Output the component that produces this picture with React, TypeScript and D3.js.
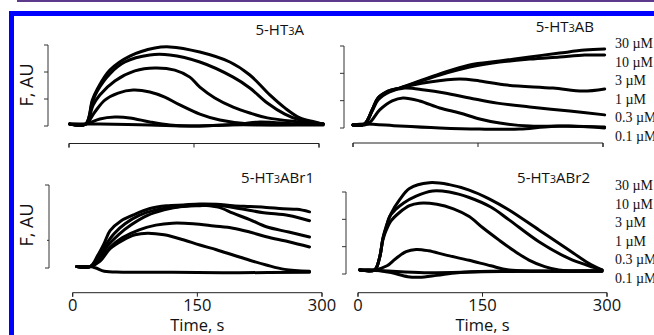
import React from "react";
import * as d3 from "d3";

type Pt = [number, number];

// concentration labels (legend on the right)
const concLabels = ["30 µM", "10 µM", "3 µM", "1 µM", "0.3 µM", "0.1 µM"];
const xTickValues = [0, 150, 300];
const panelTitles = ["A", "AB", "ABr1", "ABr2"];

// ---- 5-HT3A (time s, F AU)
const A_30: Pt[] = [[1,0.07],[20,0.07],[28,0.96],[34,1.37],[49,2.07],[73,2.59],[103,2.89],[121,2.93],[157,2.74],[193,2.37],[217,1.89],[241,1.15],[259,0.67],[277,0.3],[295,0.15],[305,0.07]];
const A_10: Pt[] = [[1,0.07],[20,0.07],[28,0.89],[34,1.3],[49,1.93],[67,2.37],[97,2.63],[121,2.63],[157,2.37],[197,1.81],[217,1.41],[238,0.85],[259,0.44],[277,0.22],[305,0.07]];
const A_3: Pt[] = [[1,0.07],[20,0.07],[29,0.78],[37,1.15],[55,1.67],[79,2.04],[103,2.15],[127,2.07],[145,1.81],[157,1.44],[175,1.04],[197,0.7],[217,0.48],[238,0.3],[277,0.15],[305,0.07]];
const A_1: Pt[] = [[1,0.07],[20,0.07],[31,0.52],[43,0.96],[59,1.22],[77,1.33],[97,1.26],[115,1.07],[133,0.78],[157,0.44],[181,0.22],[217,0.07],[305,0.07]];
const A_03: Pt[] = [[1,0.07],[20,0.07],[37,0.26],[55,0.33],[73,0.3],[97,0.15],[121,0.04],[157,0],[205,0.07],[229,0.15],[277,0.07],[305,0.07]];
const A_01: Pt[] = [[1,0.07],[37,0.07],[97,0.04],[145,0],[193,0.04],[241,0.04],[305,0.04]];

// ---- 5-HT3AB
const AB_30: Pt[] = [[0,0.11],[14,0.15],[23,0.66],[30,1.1],[42,1.35],[56,1.46],[80,1.72],[104,1.98],[140,2.31],[176,2.45],[212,2.6],[248,2.74],[278,2.85],[302,2.89]];
const AB_10: Pt[] = [[0,0.11],[14,0.15],[23,0.66],[30,1.1],[42,1.35],[56,1.46],[80,1.7],[104,1.94],[140,2.23],[176,2.41],[212,2.52],[248,2.6],[278,2.67],[302,2.67]];
const AB_3: Pt[] = [[0,0.11],[14,0.15],[23,0.66],[30,1.06],[42,1.32],[56,1.46],[92,1.68],[128,1.79],[152,1.72],[185,1.57],[240,1.46],[276,1.35],[302,1.43]];
const AB_1: Pt[] = [[0,0.11],[14,0.15],[23,0.62],[30,1.02],[44,1.32],[62,1.46],[86,1.39],[110,1.28],[140,1.1],[173,0.91],[212,0.77],[260,0.62],[302,0.48]];
const AB_03: Pt[] = [[0,0.11],[18,0.15],[32,0.66],[47,0.99],[60,1.1],[80,0.99],[104,0.73],[128,0.55],[152,0.33],[176,0.18],[212,0.07],[248,0.07],[302,0.04]];
const AB_01: Pt[] = [[0,0.11],[14,0.15],[56,0.07],[104,0],[152,-0.04],[200,-0.04],[230,0.04],[260,0.07],[302,0]];

// ---- 5-HT3ABr1
const R1_30: Pt[] = [[5,0.05],[21,0.05],[30,0.45],[38,0.9],[45,1.35],[58,1.7],[73,1.92],[93,2.15],[113,2.25],[133,2.28],[153,2.31],[173,2.3],[193,2.25],[213,2.22],[233,2.19],[253,2.14],[270,2.12],[285,2.03]];
const R1_10: Pt[] = [[5,0.05],[21,0.05],[31,0.4],[40,0.85],[50,1.25],[63,1.6],[80,1.9],[100,2.1],[123,2.2],[150,2.25],[175,2.27],[200,2.15],[230,2.0],[260,1.9],[285,1.71]];
const R1_3: Pt[] = [[5,0.05],[21,0.05],[32,0.35],[42,0.8],[55,1.2],[70,1.55],[90,1.9],[110,2.1],[130,2.22],[153,2.28],[175,2.2],[193,1.98],[213,1.75],[233,1.49],[260,1.3],[285,1.12]];
const R1_1: Pt[] = [[5,0.05],[21,0.05],[33,0.3],[45,0.75],[60,1.1],[80,1.38],[100,1.55],[120,1.62],[145,1.6],[170,1.52],[193,1.44],[213,1.3],[233,1.13],[260,0.95],[285,0.76]];
const R1_03: Pt[] = [[5,0.05],[21,0.05],[33,0.25],[45,0.7],[60,1.0],[75,1.2],[90,1.26],[110,1.2],[133,1.02],[153,0.83],[173,0.66],[193,0.47],[213,0.28],[233,0.11],[255,-0.05],[285,-0.12]];
const R1_01: Pt[] = [[5,0.05],[21,0.05],[28,0.0],[38,-0.12],[60,-0.15],[120,-0.15],[200,-0.17],[285,-0.15]];

// ---- 5-HT3ABr2
const R2_30: Pt[] = [[2,0.15],[20,0.15],[26,0.6],[30,1.3],[34,1.75],[40,2.22],[50,2.71],[62,3.13],[86,3.34],[110,3.27],[134,3.07],[158,2.75],[182,2.34],[218,1.61],[254,0.88],[278,0.39],[294,0.15]];
const R2_10: Pt[] = [[2,0.15],[20,0.15],[26,0.6],[30,1.3],[34,1.7],[38,2.1],[45,2.35],[55,2.6],[70,2.85],[90,3.04],[110,3.0],[134,2.8],[160,2.45],[182,1.98],[218,1.18],[254,0.57],[278,0.3],[294,0.15]];
const R2_3: Pt[] = [[2,0.15],[20,0.15],[26,0.6],[30,1.25],[34,1.6],[40,1.95],[50,2.25],[62,2.5],[74,2.59],[95,2.55],[115,2.38],[134,2.1],[150,1.7],[170,1.24],[188,0.85],[206,0.51],[225,0.27],[242,0.15],[294,0.12]];
const R2_1: Pt[] = [[2,0.15],[20,0.15],[35,0.3],[45,0.55],[58,0.82],[70,0.9],[85,0.85],[105,0.7],[134,0.5],[160,0.3],[182,0.15],[294,0.12]];
const R2_03: Pt[] = [[2,0.15],[20,0.15],[40,0.05],[60,-0.1],[74,-0.12],[95,-0.05],[120,0.05],[160,0.1],[294,0.1]];
const R2_01: Pt[] = [[2,0.15],[30,0.12],[80,0.05],[150,0.08],[220,0.1],[294,0.1]];

const seriesA = [A_30, A_10, A_3, A_1, A_03, A_01];
const seriesAB = [AB_30, AB_10, AB_3, AB_1, AB_03, AB_01];
const seriesR1 = [R1_30, R1_10, R1_3, R1_1, R1_03, R1_01];
const seriesR2 = [R2_30, R2_10, R2_3, R2_1, R2_03, R2_01];
const allSeries = [seriesA, seriesAB, seriesR1, seriesR2];

// layout (pixels)
const layouts = [
  { x0: 69, x1: 319, yb: 126, yt: 45, axisX: 48, xAxisY: 143.5, yTicks: [0, 1, 2, 3], labels: false, titleEnd: 304, titleY: 35, ylab: true, ylabY: 85 },
  { x0: 353, x1: 603, yb: 128, yt: 46, axisX: 344, xAxisY: 143, yTicks: [0, 1, 2, 3], labels: false, titleEnd: 594, titleY: 32, ylab: false, ylabY: 0 },
  { x0: 72.7, x1: 322, yb: 268, yt: 185, axisX: 49, xAxisY: 292.7, yTicks: [0, 1, 3], labels: true, titleEnd: 314, titleY: 183, ylab: true, ylabY: 225 },
  { x0: 358, x1: 607, yb: 274, yt: 192, axisX: 346, xAxisY: 292.7, yTicks: [0, 1, 2, 3], labels: true, titleEnd: 590, titleY: 183, ylab: false, ylabY: 0 },
];

const SANS = "'Open Sans', sans-serif";
const SERIF = "'Liberation Serif', serif";

function Panel({ idx }: { idx: number }) {
  const L = layouts[idx];
  const x = d3.scaleLinear().domain([0, 300]).range([L.x0, L.x1]);
  const y = d3.scaleLinear().domain([0, 3]).range([L.yb, L.yt]);
  const line = d3
    .line<Pt>()
    .x((d) => x(d[0]))
    .y((d) => y(d[1]))
    .curve(d3.curveCatmullRom.alpha(0.5));
  const series = allSeries[idx];
  return (
    <g>
      <path
        d={`M${L.axisX - 4},${y(3)}H${L.axisX}V${y(0)}H${L.axisX - 4}`}
        fill="none"
        stroke="#333"
        strokeWidth={1}
      />
      {L.yTicks
        .filter((v) => v !== 0 && v !== 3)
        .map((v) => (
          <line key={v} x1={L.axisX - (idx === 2 ? 2 : 4)} x2={L.axisX} y1={y(v)} y2={y(v)} stroke="#333" strokeWidth={1} />
        ))}
      <path d={`M${x(0)},${L.xAxisY + 4}V${L.xAxisY}H${x(300)}V${L.xAxisY + 4}`} fill="none" stroke="#222" strokeWidth={1} />
      {xTickValues.map((v) => (
        <g key={v}>
          <line x1={x(v)} x2={x(v)} y1={L.xAxisY} y2={L.xAxisY + 4} stroke="#222" strokeWidth={1} />
          {L.labels && (
            <text x={x(v)} y={311} textAnchor="middle" fontFamily={SANS} fontSize={16.5} fill="#111">
              {v}
            </text>
          )}
        </g>
      ))}
      {L.labels && (
        <text x={(x(0) + x(300)) / 2} y={330.5} textAnchor="middle" fontFamily={SANS} fontSize={16.5} fill="#111">
          Time, s
        </text>
      )}
      {L.ylab && (
        <text
          transform={`translate(33,${L.ylabY}) rotate(-90)`}
          textAnchor="middle"
          fontFamily={SANS}
          fontSize={18}
          fill="#111"
        >
          F, AU
        </text>
      )}
      <text x={L.titleEnd} y={L.titleY} textAnchor="end" fontFamily={SANS} fontSize={15} fill="#111">
        5-HT<tspan fontSize={11}>3</tspan>
        {panelTitles[idx]}
      </text>
      {series.map((s, i) => (
        <path key={i} d={line(s) || ""} fill="none" stroke="#000" strokeWidth={3} strokeLinejoin="round" strokeLinecap="round" />
      ))}
    </g>
  );
}

export default function App() {
  const legendTopY = [43, 185];
  return (
    <svg width={654} height={335} style={{ position: "absolute", left: 0, top: 0, background: "#fff" }}>
      <rect x={0} y={0} width={654} height={335} fill="#fff" />
      <rect x={17} y={0} width={640} height={2} fill="#5e3a8c" />
      <rect x={11.5} y={13.5} width={660} height={340} fill="none" stroke="#0000ff" strokeWidth={5} />
      {[0, 1, 2, 3].map((i) => (
        <Panel key={i} idx={i} />
      ))}
      {legendTopY.map((ty, k) => (
        <g key={k}>
          {concLabels.map((c, i) => (
            <text key={c} x={615} y={ty + i * 18.6 + 5} fontFamily={SERIF} fontSize={14} fill="#111">
              {c}
            </text>
          ))}
        </g>
      ))}
    </svg>
  );
}
